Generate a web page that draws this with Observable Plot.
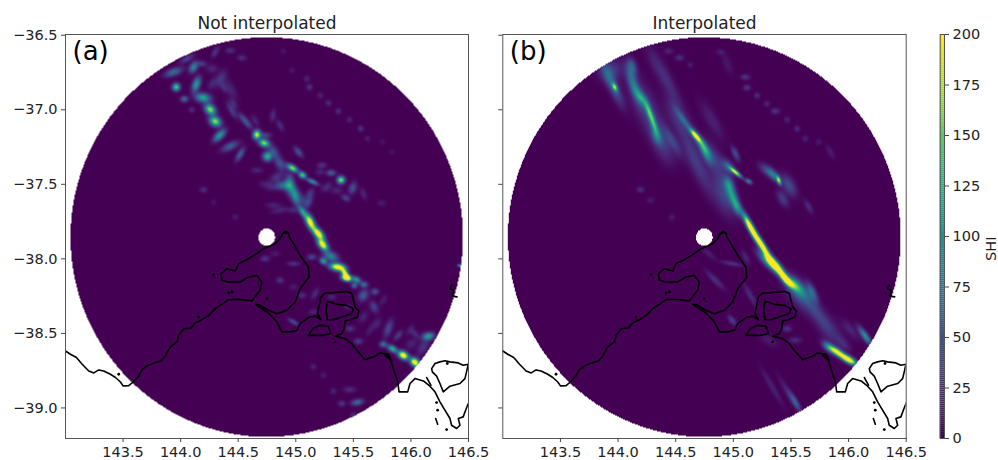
<!DOCTYPE html>
<html><head><meta charset="utf-8">
<script src="https://cdn.jsdelivr.net/npm/d3@7"></script>
<script src="https://cdn.jsdelivr.net/npm/@observablehq/plot@0.6"></script>
<style>
html,body{margin:0;padding:0;background:#fff}
#fig{position:relative;width:998px;height:460px;overflow:hidden}
#fig>svg{position:absolute;top:0}
</style></head><body><div id="fig"></div>
<script>
// Radar coverage (degrees)
const radar = {lon:144.748, lat:-37.854, rLon:1.704, rLat:1.34, holeLon:0.072, holeLat:0.058};
const xTicks = [143.5,144,144.5,145,145.5,146,146.5];
const yTicks = [-36.5,-37,-37.5,-38,-38.5,-39];
const barTicks = [0,25,50,75,100,125,150,175,200];
const titles = ["Not interpolated","Interpolated"];
const tags = ["(a)","(b)"];

// SHI features: lon, lat, peak, length, width, bearing
const shiA = [
[143.939,-36.747,70,6,2.5,20],[144.113,-36.714,90,4,2.5,60],[143.962,-36.848,150,2.5,2.5,0],[144.032,-36.928,70,2.5,2,0],
[144.136,-36.83,110,5,2.5,70],[144.194,-36.919,120,5,3,-10],[144.257,-36.998,170,4,3,-45],[144.301,-37.078,170,4,3,-30],
[144.338,-37.172,110,5,2.5,45],[144.431,-37.245,60,6,2.5,25],[144.517,-37.299,60,5,2,60],[144.662,-37.167,190,3,2.5,80],
[144.725,-37.223,170,3.5,2.5,-20],[144.754,-37.313,130,3,3,0],[144.575,-37.087,50,5,2,-50],[144.445,-37.004,35,6,2,-60],
[144.344,-36.792,30,6,3,60],[144.272,-36.725,20,4,3,0],[144.431,-36.859,20,8,3,-60],[144.431,-36.602,25,3,2,0],
[144.532,-36.651,25,3,2,0],[144.301,-36.613,30,4,2,60],[144.055,-36.658,40,5,2,30],[144.199,-37.536,25,2.5,2,0],
[144.286,-37.619,10,2,2,0],[144.474,-37.719,15,2,2,0],[144.098,-37,25,2,2,0],
[144.971,-37.391,170,4,2,-30],[145.058,-37.438,150,2.5,2,-30],[145.145,-37.482,100,4,1.5,-25],[145.393,-37.471,170,2.5,2.5,0],
[145.307,-37.424,60,3,2,0],[145.494,-37.525,50,4,2.5,70],[145.434,-37.592,40,3,2,-30],[144.945,-37.496,80,6,3,90],
[144.994,-37.574,110,7,3,-70],[145.061,-37.686,110,4,2,-60],[144.893,-37.507,70,5,3,0],[145.125,-37.753,230,5.5,2.5,-65],
[145.197,-37.831,230,5,2.5,-50],[144.864,-37.362,50,5,3,-60],[144.807,-37.283,50,5,3,-60],[145.023,-37.283,50,4,2,-50],
[144.864,-37.105,25,4,2,-60],[144.801,-37.038,25,4,2,80],[144.734,-37.172,40,4,2,0],[145.226,-37.373,30,3,2,0],
[145.587,-37.563,20,4,2,-70],[145.746,-37.625,15,3,2,0],[144.893,-36.607,12,2,2,0],[144.966,-36.736,12,2,2,0],
[145.096,-36.792,20,2,2,0],[145.119,-36.848,30,2,2,0],[145.211,-36.904,20,2,2,0],[145.283,-36.955,25,2,2,0],
[145.37,-37.009,25,2,2,0],[145.466,-37.067,20,2,2,0],[145.564,-37.127,30,2,2,0],[145.622,-37.194,15,2,2,0],
[145.755,-37.216,10,2,2,0],[145.833,-37.283,10,2,2,0],[144.864,-37.674,20,6,2,10],[145.067,-37.607,25,5,2,-70],
[145.234,-37.905,230,4.5,2.5,-50],[145.304,-37.983,90,5,3,-20],[145.24,-38.015,110,2.5,2,-30],[145.362,-38.055,230,5,2.5,-10],
[145.428,-38.099,210,4,2,-60],[145.442,-38.128,230,3.5,2,-10],[145.529,-38.14,100,3,2,-30],[145.593,-38.173,70,2.5,2,0],
[145.509,-38.178,70,2,2,0],[145.688,-38.22,50,2.5,2,0],[145.587,-38.245,60,4,3,60],[145.679,-38.323,40,4,2.5,-60],
[145.471,-38.468,30,3,2,0],[145.544,-38.553,35,3,2,0],[145.804,-38.468,45,6,2.5,70],[145.89,-38.513,35,4,2,50],
[146.035,-38.502,25,4,2,-50],[146.151,-38.519,110,4,2.5,10],[146.006,-38.569,20,4,3,40],[145.76,-38.573,70,2.5,2,0],
[145.841,-38.604,130,3.5,2,-30],[145.934,-38.647,240,3.5,2.5,-30],[146.035,-38.694,240,3.5,2.5,-40],[146.107,-38.591,30,6,3,60],
[145.535,-38.962,70,4,2,10],[145.399,-38.971,30,2.5,2,0],[145.466,-38.877,25,4,2,0],[145.327,-38.888,20,2,2,0],
[145.153,-38.725,20,2,2,0],[145.24,-38.781,15,2,2,0],[145.5,-39.049,25,2,2,0],[144.864,-38.144,30,2.5,2,0],
[144.98,-38.032,30,4,1.5,0],[144.821,-37.965,15,3,2,0],[145.139,-37.988,40,3,2,0],[144.98,-38.189,15,3,2,0],
[145.052,-38.245,25,3,2,0],[145.168,-38.233,25,4,2,60],[145.312,-38.256,20,3,2,0],[144.98,-38.423,45,4,1.5,-30],
[144.734,-37.999,30,3,2,0],[145.153,-38.356,20,3,2,0],[146.425,-38.044,100,1.5,1,0],
[145.125,-37.563,30,4,2.5,60],[144.836,-37.451,30,5,3,30],[144.792,-37.518,20,5,2.5,0],[145.269,-37.518,25,4,2.5,40],
[145.211,-37.418,20,3,2,0],[145.356,-37.54,20,4,2.5,0],[144.98,-37.674,20,4,2,0],[144.807,-37.641,20,5,2,0],[145.11,-37.619,40,4,2.5,70],
[145.76,-38.278,15,4,2,60],[145.587,-38.39,20,4,2.5,60],[145.703,-38.435,20,4,2.5,60],[145.992,-38.479,15,4,2,60],[145.645,-38.479,15,4,2,60],[145.457,-38.323,15,3,2,0],
[144.272,-36.825,20,4,2.5,60],[144.373,-36.848,25,4,2,-60],[144.459,-36.96,25,4,2,-60],[144.532,-37.049,25,4,2,-50],[144.647,-37.071,20,4,2,-60],[144.662,-37.406,20,4,2,0],[144.734,-37.496,15,4,2,0],[144.185,-36.691,35,3,2,0]
];
const shiB = [
[143.971,-36.848,130,3,1.5,-65],[143.948,-36.826,60,15,3.5,-65],[143.934,-36.736,35,7,8,-70],[144.121,-36.714,60,6,3,-75],
[144.136,-36.837,70,12,3,-70],[144.199,-36.919,70,6,2.5,-60],[144.266,-37.004,100,8,2,-70],[144.309,-37.094,85,8,2,-70],
[144.332,-37.172,55,6,3,-70],[144.237,-36.982,35,22,7,-65],[144.382,-37.228,30,14,6,-65],[144.671,-37.172,190,5,1.5,-50],
[144.728,-37.228,100,10,2.5,-55],[144.569,-37.071,45,10,2,-55],[144.468,-37.205,35,12,3,-60],[144.324,-36.691,15,14,4,-65],
[144.439,-36.825,22,18,4,-65],[144.526,-37.049,25,15,6,-60],[144.671,-37.339,35,25,5,-65],[144.194,-37.536,25,2.5,2,0],
[144.28,-37.607,15,2.5,2,0],[144.468,-37.719,15,2,2,0],[144.439,-36.607,20,3,2,0],[144.532,-36.651,25,3,2,0],[144.627,-36.698,15,2,2,0],
[144.758,-37.295,70,8,2.5,-65],[144.96,-37.496,65,5,3,-70],[144.989,-37.574,90,8,3,-70],[145.032,-37.652,80,6,2.5,-70],
[145.148,-37.786,240,10,2,-62],[145.018,-37.418,190,5,1.3,-40],[144.96,-37.384,60,6,3,-50],[145.133,-37.48,80,2.5,1.5,-30],
[145.394,-37.473,160,3,1.3,-70],[145.35,-37.44,70,5,2.5,-50],[145.292,-37.406,45,6,3,-40],[145.48,-37.507,45,8,4,-60],
[145.428,-37.596,35,6,3,-60],[145.654,-37.652,25,5,2,-60],[144.917,-37.563,40,15,6,-70],[144.844,-37.339,30,14,5,-65],
[145.018,-37.295,45,5,2,-65],[144.815,-37.071,18,14,4,-60],[145.105,-36.781,30,3,2,0],[145.119,-36.852,30,2.5,2,0],
[145.206,-36.904,25,2,2,0],[145.292,-36.96,20,2,2,0],[145.365,-37.009,30,3,2,0],[145.466,-37.067,20,2,2,0],[145.553,-37.127,25,2,2,0],
[145.625,-37.194,20,2,2,0],[145.74,-37.216,15,2,2,0],[145.842,-37.283,15,5,2,-60],[144.946,-36.691,12,8,3,-70],[144.888,-36.613,15,3,2,0],
[145.249,-37.91,240,10,2,-58],[145.365,-38.044,240,9,2.5,-50],[145.451,-38.133,220,6,2,-50],[145.509,-38.166,90,6,3,-40],
[145.307,-38.021,110,9,3,-45],[145.567,-38.2,60,9,4,-45],[145.683,-38.222,60,7,2.5,-65],[145.567,-38.233,45,14,6,-55],
[145.711,-38.345,28,15,4,-55],[145.827,-38.468,25,14,6,-55],[146.145,-38.519,100,7,2,-55],[146,-38.676,240,6,2.2,-30],
[145.899,-38.624,200,6,2.2,-33],[145.827,-38.591,80,5,2.5,-40],[145.538,-38.96,55,7,1.8,-60],[145.48,-38.904,22,12,2,-60],
[145.336,-38.859,18,14,2,-60],[144.844,-38.144,28,8,2,-45],[144.989,-38.032,28,7,1.5,-10],[144.787,-37.965,15,6,2,-40],
[145.105,-37.988,20,5,2,-60],[144.989,-38.412,35,4,2,-50],[145.466,-38.468,30,3,2,0],[145.148,-38.245,25,8,2,-60],
[145.307,-38.546,15,7,3,-30],[145.538,-38.546,25,4,2,0],[146.015,-38.475,20,8,3,-50],[145.957,-38.569,20,6,3,-50]
];

// Coastline traces (lon, lat)
const mainCoast = [[143,-38.618],[143.043,-38.64],[143.095,-38.662],[143.145,-38.707],[143.202,-38.752],[143.246,-38.765],[143.289,-38.745],[143.332,-38.752],[143.39,-38.774],[143.434,-38.796],[143.477,-38.826],[143.5,-38.852],[143.549,-38.85],[143.587,-38.826],[143.636,-38.785],[143.665,-38.743],[143.714,-38.716],[143.78,-38.696],[143.829,-38.685],[143.867,-38.653],[143.91,-38.591],[143.968,-38.557],[143.983,-38.513],[144.026,-38.47],[144.09,-38.464],[144.127,-38.43],[144.185,-38.408],[144.243,-38.381],[144.301,-38.334],[144.344,-38.312],[144.416,-38.274],[144.488,-38.271],[144.575,-38.278],[144.618,-38.283],[144.691,-38.211],[144.705,-38.155],[144.662,-38.111],[144.59,-38.122],[144.517,-38.155],[144.416,-38.155],[144.358,-38.144],[144.35,-38.099],[144.402,-38.066],[144.474,-38.082],[144.503,-38.032],[144.575,-38.006],[144.662,-37.965],[144.72,-37.932],[144.777,-37.914],[144.821,-37.898],[144.864,-37.865],[144.888,-37.827],[144.937,-37.827],[144.945,-37.854],[144.98,-37.898],[145.038,-37.977],[145.11,-38.055],[145.116,-38.122],[145.038,-38.2],[144.994,-38.289],[144.922,-38.345],[144.836,-38.368],[144.763,-38.345],[144.691,-38.312],[144.648,-38.305],[144.691,-38.327],[144.763,-38.363],[144.836,-38.423],[144.879,-38.49],[144.951,-38.49],[145.009,-38.479],[145.038,-38.434],[145.11,-38.394],[145.168,-38.383],[145.217,-38.408],[145.188,-38.367],[145.206,-38.3],[145.217,-38.256],[145.255,-38.229],[145.313,-38.229],[145.37,-38.222],[145.443,-38.218],[145.486,-38.233],[145.5,-38.278],[145.515,-38.323],[145.547,-38.35],[145.535,-38.39],[145.472,-38.408],[145.428,-38.417],[145.42,-38.468],[145.399,-38.501],[145.341,-38.519],[145.428,-38.535],[145.486,-38.568],[145.529,-38.613],[145.601,-38.676],[145.688,-38.653],[145.731,-38.631],[145.804,-38.64],[145.833,-38.685],[145.775,-38.647],[145.804,-38.64],[145.847,-38.736],[145.885,-38.825],[145.897,-38.892],[145.972,-38.892],[145.992,-38.836],[146.035,-38.803],[146.108,-38.819],[146.165,-38.854],[146.209,-38.892],[146.252,-38.959],[146.295,-39.015],[146.339,-39.071],[146.353,-39.116],[146.397,-39.138],[146.426,-39.116],[146.411,-39.071],[146.454,-39.06],[146.475,-39.015],[146.492,-38.982],[146.512,-38.948]];
const frenchIsland = [[145.275,-38.283],[145.356,-38.305],[145.443,-38.312],[145.5,-38.334],[145.486,-38.367],[145.414,-38.385],[145.327,-38.408],[145.275,-38.408],[145.263,-38.345],[145.275,-38.283]];
const phillipIsland = [[145.11,-38.513],[145.148,-38.468],[145.211,-38.446],[145.284,-38.452],[145.304,-38.501],[145.24,-38.513],[145.168,-38.513],[145.11,-38.513]];
const cornerInlet = [[146.18,-38.736],[146.209,-38.702],[146.252,-38.691],[146.296,-38.684],[146.339,-38.691],[146.411,-38.698],[146.454,-38.714],[146.498,-38.707],[146.483,-38.758],[146.469,-38.803],[146.426,-38.836],[146.339,-38.854],[146.281,-38.892],[146.252,-38.836],[146.223,-38.787],[146.186,-38.758],[146.18,-38.736]];
const inletBar = [[146.137,-38.796],[146.174,-38.848]];
const islandChain = [[146.215,-39.071],[146.232,-39.109]];
const farIslet = [[146.353,-38.175],[146.34,-38.2],[146.37,-38.21],[146.36,-38.25],[146.4,-38.255]];
const melbourneCurl = [[144.864,-37.865],[144.88,-37.84],[144.91,-37.815],[144.937,-37.827]];
const islets = [[143.462,-38.774],[144.286,-38.106],[144.445,-38.222],[144.416,-38.229],[144.156,-38.39],[144.749,-38.267],[145.341,-38.557],[146.223,-38.964],[146.232,-39.015],[146.31,-39.145],[146.316,-38.702]];
const coastLines = [mainCoast,frenchIsland,phillipIsland,cornerInlet,inletBar,islandChain,farIslet,melbourneCurl];

const font = "'DejaVu Sans', sans-serif";
const ink = "#222";
const colorScale = {type:"linear", scheme:"viridis", domain:[0,200], clamp:true};

function field(features){
  const f = features.map(([lon,lat,peak,len,wid,ang])=>({lon,lat,peak,len,wid,c:Math.cos(ang*Math.PI/180),s:Math.sin(ang*Math.PI/180)}));
  return (x,y)=>{
    const a=(x-radar.lon)/radar.rLon, b=(y-radar.lat)/radar.rLat;
    if(a*a+b*b>1) return NaN;
    const h=(x-radar.lon)/radar.holeLon, k=(y-radar.lat)/radar.holeLat;
    if(h*h+k*k<1) return NaN;
    let v=0;
    for(const p of f){
      const u=(x-p.lon)*115, w=(y-p.lat)*149;
      const m=u*p.c+w*p.s, n=-u*p.s+w*p.c;
      v+=p.peak*Math.exp(-0.5*(m*m/(p.len*p.len)+n*n/(p.wid*p.wid)));
    }
    return v;
  };
}

function panel(i, features, left, width, marginLeft, marginRight, showY){
  const svg = Plot.plot({
    width, height:460, marginLeft, marginRight, marginTop:34, marginBottom:22,
    style:{fontFamily:font, fontSize:"14.5px", color:ink, background:"transparent"},
    x:{domain:[143,146.5], ticks:xTicks, label:null},
    y:{domain:[-39.205,-36.495], ticks:yTicks, label:null},
    color:colorScale,
    marks:[
      Plot.raster({fill:field(features), x1:143, x2:146.5, y1:-39.205, y2:-36.495, pixelSize:1}),
      ...coastLines.map(l=>Plot.line(l,{x:d=>d[0],y:d=>d[1],stroke:"black",strokeWidth:1.6,clip:true})),
      Plot.dot(islets,{x:d=>d[0],y:d=>d[1],r:1.4,fill:"black",clip:true}),
      Plot.frame({stroke:"#555",strokeWidth:1}),
      Plot.axisX(xTicks,{tickSize:4,tickPadding:4,fontSize:14.5,tickFormat:d3.format(".1f"),label:null,stroke:"#444",color:ink}),
      Plot.axisY(yTicks,{tickSize:4,tickPadding:4,fontSize:14.5,tickFormat:showY?d3.format(".1f"):()=>"",label:null,stroke:"#444",color:ink}),
      Plot.text([titles[i]],{text:d=>d,frameAnchor:"top",lineAnchor:"bottom",dy:-6,fontSize:17,fill:ink}),
      Plot.text([tags[i]],{text:d=>d,frameAnchor:"top-left",textAnchor:"start",lineAnchor:"top",dx:7,dy:7,fontSize:26,fill:"black"})
    ]
  });
  svg.style.left = left+"px";
  return svg;
}

function colorbar(left){
  const levels = d3.range(0,200);
  const svg = Plot.plot({
    width:998-left, height:460, marginLeft:939.7-left, marginRight:998-944, marginTop:34, marginBottom:22,
    style:{fontFamily:font, fontSize:"14.5px", color:ink, background:"transparent"},
    x:{domain:[0,1], axis:null},
    y:{domain:[0,200], ticks:barTicks, label:null},
    color:colorScale,
    marks:[
      Plot.rect(levels,{x1:0,x2:1,y1:d=>d,y2:d=>d+1,fill:d=>d+0.5}),
      Plot.frame({stroke:"#555",strokeWidth:1}),
      Plot.axisY(barTicks,{anchor:"right",tickSize:4,tickPadding:4,fontSize:14.5,label:null,stroke:"#444",color:ink}),
      Plot.text(["SHI"],{text:d=>d,frameAnchor:"right",rotate:-90,dx:47,fontSize:14.5,fill:ink})
    ]
  });
  svg.style.left = left+"px";
  return svg;
}

const fig = document.getElementById("fig");
fig.append(panel(0, shiA, 0, 490, 65, 22, true));
fig.append(panel(1, shiB, 480, 450, 22.3, 24.3, false));
fig.append(colorbar(930));
</script></body></html>
